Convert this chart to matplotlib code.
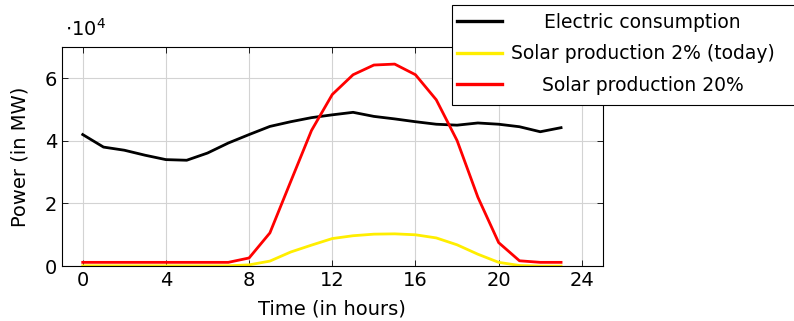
import matplotlib
matplotlib.use("Agg")
import matplotlib.pyplot as plt
from matplotlib.patches import Rectangle

hours = list(range(24))
consumption = [42000, 38000, 37000, 35400, 34000, 33800, 36100, 39300, 42000, 44600,
               46100, 47400, 48300, 49100, 47800, 47000, 46100, 45300, 45000, 45700,
               45300, 44500, 42900, 44200]
solar_2 = [100, 100, 100, 100, 100, 100, 100, 100, 400, 1600,
           4500, 6700, 8800, 9700, 10200, 10300, 10000, 9000, 6800, 3800,
           1200, 200, 0, 0]
solar_20 = [1200, 1200, 1200, 1200, 1200, 1200, 1200, 1200, 2600, 10600,
            27000, 43300, 54800, 61100, 64200, 64500, 61100, 53100, 40100, 22000,
            7500, 1700, 1200, 1200]

plt.rcParams['font.family'] = ['DejaVu Sans']
plt.rcParams['font.size'] = 14

fig = plt.figure(figsize=(7.94, 3.21), dpi=100)
ax = fig.add_axes([0.078, 0.171, 0.681, 0.683])

ax.plot(hours, consumption, color='black', lw=2, label='Electric consumption')
ax.plot(hours, solar_2, color='#ffee00', lw=2, label='Solar production 2% (today)')
ax.plot(hours, solar_20, color='#ff0000', lw=2, label='Solar production 20%')

ax.set_xlim(-1, 25)
ax.set_ylim(0, 70000)
ax.set_xticks(range(0, 25, 4))
ax.set_yticks([0, 20000, 40000, 60000])
ax.set_yticklabels(['0', '2', '4', '6'])
ax.grid(True, color='#d3d3d3', lw=0.8)
ax.set_axisbelow(True)
ax.tick_params(direction='in', top=True, right=True, length=4, width=0.6, labelsize=14)
for s in ax.spines.values():
    s.set_linewidth(0.8)
ax.text(0.005, 1.03, r'$\cdot 10^4$', transform=ax.transAxes, fontsize=14, ha='left', va='bottom')

ax.set_xlabel('Time (in hours)', fontsize=14, labelpad=7)
ax.set_ylabel('Power (in MW)', fontsize=14, labelpad=11)

# legend box runs off the right edge of the picture, as in the original
fig.patches.append(Rectangle((0.569, 0.673), 0.45, 0.311, transform=fig.transFigure,
                             facecolor='white', edgecolor='black', lw=0.8, zorder=4.9))
leg = fig.legend(loc='upper left', bbox_to_anchor=(0.569, 0.977), frameon=False,
                 handlelength=2.4, handletextpad=0.45,
                 borderpad=0.3, labelspacing=0.66, borderaxespad=0, fontsize=13.5)
leg.set_zorder(5)
for line in leg.get_lines():
    line.set_linewidth(2.4)

# centre the labels like pgfplots does
fig.canvas.draw()
texts = leg.get_texts()
widths = [t.get_window_extent().width for t in texts]
wmax = max(widths)
for t, w in zip(texts, widths):
    t.set_x((wmax - w) / 2)

fig.savefig('out.png', dpi=100)
